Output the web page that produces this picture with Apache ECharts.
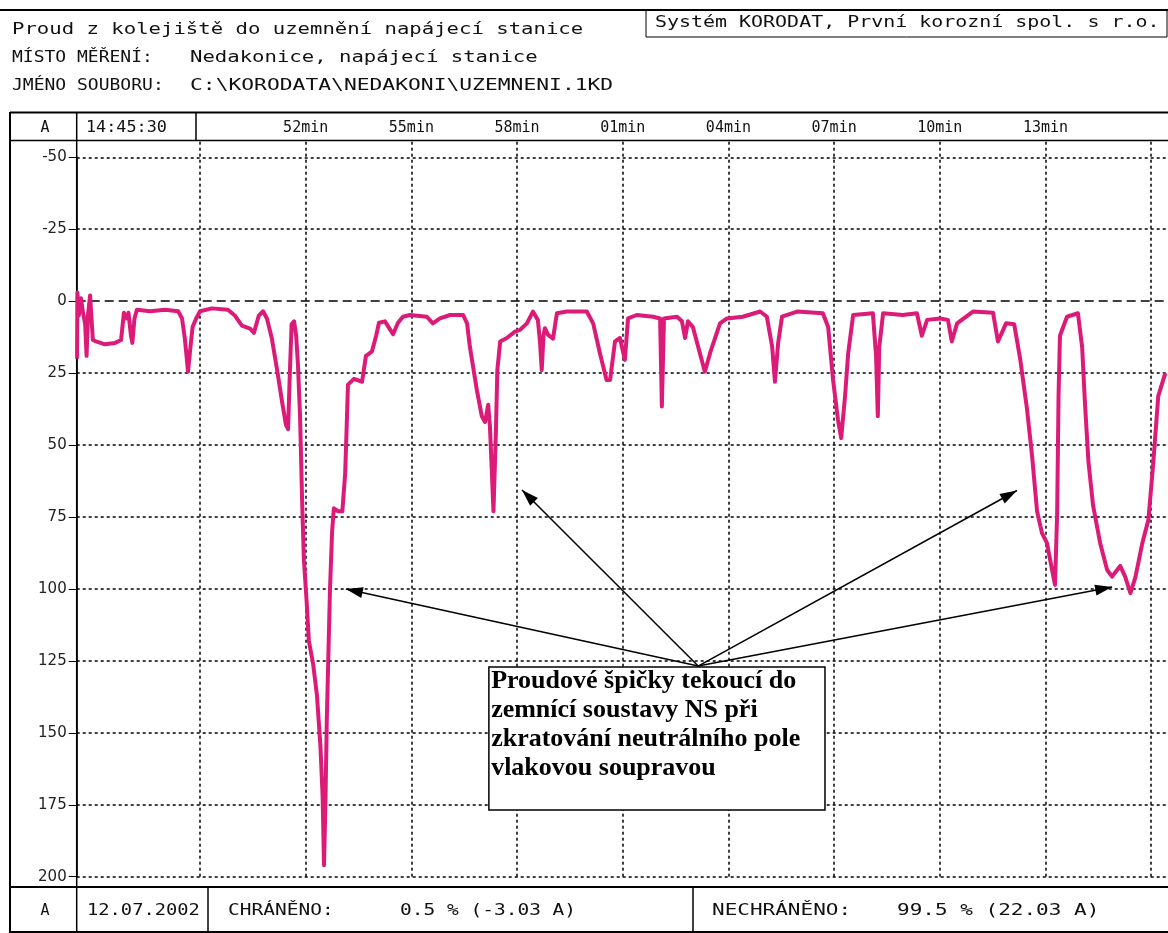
<!DOCTYPE html>
<html><head><meta charset="utf-8">
<script src="https://cdn.jsdelivr.net/npm/echarts@6/dist/echarts.min.js"></script>
<style>html,body{margin:0;padding:0;background:#fff}#c{width:1168px;height:933px}</style>
</head><body><div id="c"></div><script>
// time in minutes after 14:00 (14:45:30 = 45.5), current in A
const timeMin = [45.51,45.52,45.56,45.62,45.68,45.74,45.78,45.82,45.88,45.92,45.96,46.05,46.30,46.59,46.76,46.84,46.91,46.97,47.04,47.08,
47.14,47.21,47.58,48.01,48.38,48.49,48.57,48.66,48.72,48.79,48.89,49.00,49.34,49.79,49.99,50.19,50.42,50.53,50.67,50.79,
50.90,51.04,51.19,51.33,51.44,51.50,51.55,51.60,51.67,51.73,51.78,51.84,51.90,51.95,52.02,52.09,52.21,52.32,52.42,52.48,
52.52,52.56,52.60,52.65,52.69,52.75,52.80,52.92,53.04,53.12,53.16,53.20,53.37,53.60,53.71,53.88,54.00,54.08,54.25,54.48,
54.62,54.76,54.96,55.44,55.61,55.81,56.10,56.47,56.58,56.66,56.86,57.00,57.09,57.18,57.23,57.33,57.40,57.44,57.52,57.71,
57.94,58.08,58.28,58.45,58.59,58.65,58.70,58.75,58.79,58.88,59.02,59.13,59.41,59.98,60.16,60.35,60.54,60.64,60.78,60.92,
61.06,61.15,61.40,61.86,62.06,62.11,62.17,62.54,62.68,62.77,62.85,62.99,63.33,63.48,63.76,63.96,64.41,64.90,65.09,65.24,
65.32,65.41,65.52,65.95,66.68,66.83,66.97,67.11,67.20,67.31,67.40,67.54,68.10,68.19,68.24,68.28,68.39,68.95,69.35,69.49,
69.64,70.01,70.23,70.34,70.49,70.94,71.51,71.65,71.88,72.11,72.28,72.47,72.62,72.76,72.90,73.04,73.18,73.27,73.33,73.37,
73.41,73.61,73.92,74.04,74.12,74.22,74.35,74.55,74.75,74.89,75.12,75.26,75.41,75.55,75.75,75.92,76.06,76.20,76.40];
const currentA = [20,-3,5,-1,4,8,19,5,-2,6,13.5,14,15,14.5,13.5,4,6,4,12,14.5,
6,3,3.5,3,3.5,6,13,24.5,17,9,6,3.5,2.5,3,5,8.5,9.5,11,5,3.5,
6,13,24,35,43,44.5,25,8,7,12,22,40,70,90,103,118,126,137,155,172,
196,175,145,120,100,80,72,73,73,60,45,29,27,28,19,17.5,12,7.5,7,11.5,
7.5,5.4,4.8,5.4,7.7,6,4.8,4.8,7.7,15.8,31,40,42,36,43.5,73,45,24,14,12.8,
10.6,10,7.7,3.6,6.5,14,24,12,9.4,11.7,13,4.2,3.6,3.6,7.7,18,27.4,27.4,14,12.8,
20.4,6,4.8,5.4,6,36.6,6,5.4,7,12.8,7,9,24.5,18,7.7,6,5.4,3.6,5.4,15.8,
28,14.6,5.4,3.6,4.2,9,27.4,41.3,47.6,33,18,4.8,4.2,19,40,16,4.2,4.8,4.2,12,
6.5,6,6.5,14,7.7,3.6,4,14,7.7,8,20,37,54,73,80.6,84,93,98.6,74,33,
12,5.4,4.2,16,35.5,56,71,84,93.4,95.7,92,95.7,101.5,96,84,76,56,33,25];
const yTicks = [-50,-25,0,25,50,75,100,125,150,175,200];
const gridMinutes = [49,52,55,58,61,64,67,70,73,76];
const gridLabels = ['','52min','55min','58min','01min','04min','07min','10min','13min',''];
const arrowFrom = [63.14,126.8];
const arrowTips = [[53.14,100],[58.14,65.6],[72.19,65.8],[74.89,99.3]];
const noteBox = [[57.20,127.1],[66.74,176.8]];
const noteText = 'Proudové špičky tekoucí do\nzemnící soustavy NS při\nzkratování neutrálního pole\nvlakovou soupravou';

const MONO = '"DejaVu Sans Mono"';
const X0 = 45.5, X1 = 76.42;
const L = 76.7, W = 1089.3;

function txt(x, y, s, size, sx, align) {
  return {type:'text', x:x, y:y, scaleX:sx||1, silent:true,
    style:{text:s, font:size+'px '+MONO, fill:'#111', textAlign:align||'left', align:align||'left', textVerticalAlign:'middle', verticalAlign:'middle'}};
}
function ln(x1,y1,x2,y2,w){
  return {type:'line', silent:true, shape:{x1:x1,y1:y1,x2:x2,y2:y2}, style:{stroke:'#000', lineWidth:w||1}};
}

const chart = echarts.init(document.getElementById('c'), null, {renderer:'canvas'});
chart.setOption({
  animation:false,
  backgroundColor:'#fff',
  grid:[{left:L, top:157.3, width:W, height:719.4},{left:L, top:141, width:W, height:735.7}],
  xAxis:[{gridIndex:0, type:'value', min:X0, max:X1, show:false},
         {gridIndex:1, type:'value', min:X0, max:X1, show:false}],
  yAxis:[{gridIndex:0, type:'value', inverse:true, min:-50, max:200, interval:25,
          axisLine:{show:true, lineStyle:{color:'#000', width:1.5}}, splitLine:{show:false},
          axisTick:{show:true, inside:false, length:8, lineStyle:{color:'#000', width:1}},
          axisLabel:{margin:10, fontFamily:'DejaVu Sans', fontSize:15, color:'#222'}},
         {gridIndex:1, type:'value', min:0, max:1, show:false}],
  series:[
    {type:'line', name:'hgrid', xAxisIndex:0, yAxisIndex:0, data:[[X0,-50]], showSymbol:false, lineStyle:{opacity:0}, silent:true,
      markLine:{silent:true, z:1, symbol:'none', label:{show:false},
        lineStyle:{color:'#000', width:1.5},
        data: yTicks.map(v => ({yAxis:v, lineStyle:{color:'#000', width:1.5, type: v===0 ? [9,5] : [3,3]}}))},
      markArea:{silent:true, z:2, itemStyle:{color:'#fff', borderColor:'#000', borderWidth:1.5},
        label:{show:true, position:[3,1], formatter:noteText, fontFamily:'"Liberation Serif"', fontWeight:'bold', fontSize:26, lineHeight:29, color:'#000', align:'left'},
        data:[[{coord:noteBox[0]},{coord:noteBox[1]}]]}
    },
    {type:'line', name:'vgrid', xAxisIndex:1, yAxisIndex:1, data:[[X0,0]], showSymbol:false, lineStyle:{opacity:0}, silent:true,
      markLine:{silent:true, z:1, symbol:'none',
        lineStyle:{color:'#000', width:1.5, type:[3,3]},
        label:{show:true, position:'end', distance:5, fontFamily:MONO, fontSize:15, color:'#111'},
        data: gridMinutes.map((m,i) => ({xAxis:m, label:{show: gridLabels[i] !== '', formatter: gridLabels[i]}}))}
    },
    {type:'line', name:'Proud', xAxisIndex:0, yAxisIndex:0, z:3, symbol:'none', showSymbol:false,
      lineStyle:{color:'#DC1A78', width:4, join:'round'},
      data: timeMin.map((t,i) => [t, currentA[i]])},
    {type:'line', name:'arrows', xAxisIndex:0, yAxisIndex:0, data:[[X0,-50]], showSymbol:false, lineStyle:{opacity:0}, silent:true,
      markLine:{silent:true, z:4, symbol:['none','triangle'], label:{show:false},
        lineStyle:{color:'#000', width:1.5, type:'solid'},
        data: arrowTips.map(p => [{coord:arrowFrom, symbol:'none'}, {coord:p, symbol:'triangle', symbolSize:[11,17], symbolOffset:[0,'50%']}])}
    }
  ],
  graphic:[
    ln(0,10,1168,10,2),
    {type:'rect', silent:true, shape:{x:646,y:10,width:521,height:27}, style:{fill:'none', stroke:'#000', lineWidth:1}},
    txt(12,30,'Proud z kolejiště do uzemnění napájecí stanice',15,1.375),
    txt(12,58,'MÍSTO MĚŘENÍ:',15,1.2),
    txt(190,58,'Nedakonice, napájecí stanice',15,1.375),
    txt(12,86,'JMÉNO SOUBORU:',15,1.2),
    txt(190,86,'C:\\KORODATA\\NEDAKONI\\UZEMNENI.1KD',15,1.42),
    txt(655,23,'Systém KORODAT, První korozní spol. s r.o.',15,1.33),
    ln(10,112.5,1168,112.5,2),
    ln(10,140.5,1168,140.5,1.5),
    ln(10,112,10,933,2),
    ln(76.7,112,76.7,933,1.5),
    ln(196,112,196,140,1.5),
    txt(45,128,'A',15,1,'center'),
    txt(86,128,'14:45:30',16,1.05),
    ln(10,887,1168,887,2),
    ln(208,887,208,933,1.5),
    ln(693,887,693,933,1.5),
    ln(10,932,1168,932,2),
    txt(45,911,'A',15,1,'center'),
    txt(87,911,'12.07.2002',15,1.25),
    txt(228,911,'CHRÁNĚNO:',15,1.3),
    txt(400,911,'0.5 % (-3.03 A)',15,1.3),
    txt(712,911,'NECHRÁNĚNO:',15,1.4),
    txt(897,911,'99.5 % (22.03 A)',15,1.4)
  ]
});
</script></body></html>
